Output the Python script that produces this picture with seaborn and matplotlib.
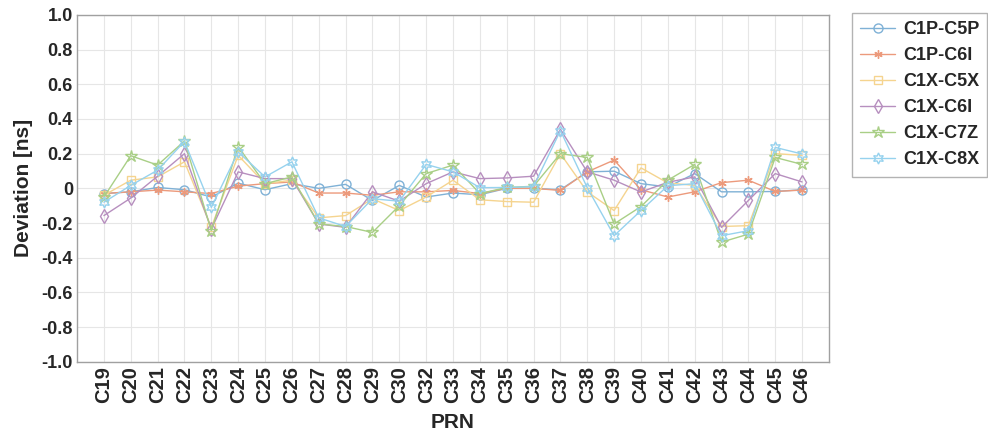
import matplotlib
matplotlib.use("Agg")
import matplotlib.pyplot as plt
import seaborn as sns
import pandas as pd

prn = ["C19", "C20", "C21", "C22", "C23", "C24", "C25", "C26", "C27", "C28", "C29", "C30", "C32",
       "C33", "C34", "C35", "C36", "C37", "C38", "C39", "C40", "C41", "C42", "C43", "C44", "C45", "C46"]

c1p_c5p = [-0.03, -0.02, 0.005, -0.008, -0.05, 0.03, -0.008, 0.027, 0.0, 0.023, -0.07, 0.017, -0.05,
           -0.027, -0.037, 0.0, 0.0, -0.008, 0.095, 0.099, 0.027, 0.008, 0.085, -0.02, -0.02, -0.018, -0.008]
c1p_c6i = [-0.03, -0.02, -0.01, -0.02, -0.03, 0.013, 0.027, 0.037, -0.027, -0.027, -0.04, -0.02, -0.02,
           -0.012, -0.03, 0.0, 0.0, -0.012, 0.095, 0.163, -0.008, -0.05, -0.02, 0.033, 0.047, -0.018, -0.01]
c1x_c5x = [-0.04, 0.047, 0.066, 0.153, -0.225, 0.19, 0.027, 0.047, -0.17, -0.157, -0.06, -0.128, -0.05,
           0.047, -0.066, -0.076, -0.08, 0.2, -0.02, -0.128, 0.118, 0.031, 0.017, -0.22, -0.215, 0.2, 0.19]
c1x_c6i = [-0.157, -0.056, 0.07, 0.2, -0.235, 0.095, 0.056, 0.056, -0.205, -0.225, -0.02, -0.074, 0.027,
           0.095, 0.056, 0.06, 0.07, 0.34, 0.095, 0.047, -0.021, 0.035, 0.066, -0.225, -0.07, 0.085, 0.037]
c1x_c7z = [-0.05, 0.188, 0.134, 0.273, -0.244, 0.24, 0.027, 0.066, -0.205, -0.22, -0.254, -0.1, 0.085,
           0.134, -0.03, 0.005, 0.012, 0.2, 0.178, -0.205, -0.105, 0.047, 0.138, -0.31, -0.264, 0.178, 0.138]
c1x_c8x = [-0.08, 0.017, 0.105, 0.27, -0.11, 0.21, 0.066, 0.153, -0.17, -0.22, -0.06, -0.074, 0.138,
           0.095, 0.004, 0.005, 0.01, 0.333, 0.004, -0.273, -0.128, 0.015, 0.027, -0.273, -0.244, 0.236, 0.198]

series_names = ["C1P-C5P", "C1P-C6I", "C1X-C5X", "C1X-C6I", "C1X-C7Z", "C1X-C8X"]
series_vals = [c1p_c5p, c1p_c6i, c1x_c5x, c1x_c6i, c1x_c7z, c1x_c8x]
colors = ["#7fb1d6", "#ec9a7c", "#f5d48f", "#b78fbf", "#a9cf86", "#96d2ee"]
markers = ["o", (6, 2, 0), "s", "d", "*", (6, 1, 0)]
msizes = [6.5, 6, 6, 7.5, 9, 8]

sns.set_theme(style="whitegrid")
plt.rcParams["font.family"] = ["Liberation Sans", "DejaVu Sans"]
plt.rcParams["font.weight"] = "bold"

fig = plt.figure(figsize=(9.88, 4.37), dpi=100)
ax = fig.add_axes([0.078, 0.172, 0.761, 0.794])

for name, vals, col, mk, ms in zip(series_names, series_vals, colors, markers, msizes):
    df = pd.DataFrame({"PRN": prn, "Deviation": vals})
    sns.lineplot(data=df, x="PRN", y="Deviation", ax=ax, sort=False, color=col,
                 marker=mk, markersize=ms, markerfacecolor="none", markeredgecolor=col,
                 markeredgewidth=1.0, linewidth=1.0, label=name)

ax.set_xlim(-1, len(prn))
ax.set_ylim(-1.0, 1.0)
yt = [-1.0, -0.8, -0.6, -0.4, -0.2, 0, 0.2, 0.4, 0.6, 0.8, 1.0]
ax.set_yticks(yt)
ax.set_yticklabels(["0" if v == 0 else f"{v:.1f}" for v in yt], fontsize=13, fontweight="bold", color="#262626")
ax.set_xticks(range(len(prn)))
ax.set_xticklabels(prn, rotation=90, fontsize=14.5, fontweight="bold", color="#262626")
ax.set_xlabel("PRN", fontsize=15, fontweight="bold", color="#262626", labelpad=7)
ax.set_ylabel("Deviation [ns]", fontsize=15, fontweight="bold", color="#262626", labelpad=6)
ax.grid(True, color="#e6e6e6", linewidth=0.8)
for s in ax.spines.values():
    s.set_color("#a0a0a0")
    s.set_linewidth(1.0)
ax.tick_params(axis="both", direction="in", length=4, color="#a0a0a0", pad=3)

leg = ax.legend(loc="upper left", bbox_to_anchor=(1.031, 1.005), frameon=True, fancybox=False,
                fontsize=13, handlelength=1.9, handletextpad=0.45, borderpad=0.45, labelspacing=0.5,
                borderaxespad=0)
leg.get_frame().set_edgecolor("#a0a0a0")
leg.get_frame().set_linewidth(1.0)
for t in leg.get_texts():
    t.set_fontweight("bold")
    t.set_color("#262626")

fig.savefig("out.png", dpi=100, facecolor="white")
